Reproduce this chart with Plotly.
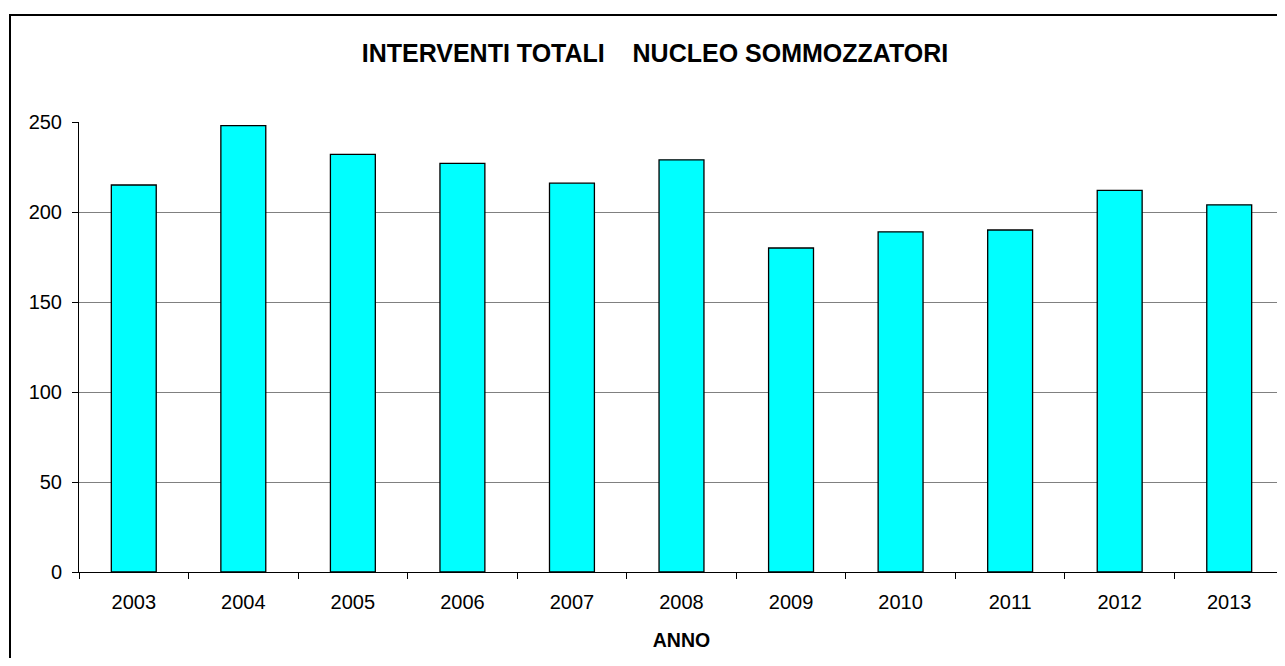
import plotly.graph_objects as go

anni = ["2003", "2004", "2005", "2006", "2007", "2008", "2009", "2010", "2011", "2012", "2013"]
interventi = [215, 248, 232, 227, 216, 229, 180, 189, 190, 212, 204]
y_ticks = [0, 50, 100, 150, 200, 250]

# page has an 8px body margin; figure placed at (8, 8)
OFF = 8
W, H = 1277, 650
L, R, T, B = 71, 1, 114, 86
pw, ph = W - L - R, H - T - B

FONT = "Liberation Sans, Arial, sans-serif"

fig = go.Figure(go.Bar(
    x=anni, y=interventi,
    marker=dict(color="#00FFFF", line=dict(color="#000000", width=1.3)),
    width=0.41,
))

fig.update_layout(
    width=W, height=H,
    margin=dict(l=L, r=R, t=T, b=B),
    paper_bgcolor="white", plot_bgcolor="white",
    showlegend=False,
    font=dict(family=FONT, color="#000000", size=20),
    title=dict(text="<b>INTERVENTI TOTALI    NUCLEO SOMMOZZATORI</b>",
               x=(655 - OFF) / W, xanchor="center",
               y=1 - (53 - OFF) / H, yanchor="middle",
               font=dict(family=FONT, size=25)),
    xaxis=dict(
        type="category", tickson="boundaries", ticks="outside", ticklen=6,
        tickcolor="#000000", showline=True, linecolor="#000000", linewidth=1,
        showgrid=False,
        title=dict(text="<b>ANNO</b>", font=dict(size=19.5), standoff=21),
        tickfont=dict(size=20), ticklabelstandoff=12,
    ),
    yaxis=dict(
        range=[0, 250], tickvals=y_ticks, ticks="outside", ticklen=6,
        tickcolor="#000000", showline=True, linecolor="#000000", linewidth=1,
        showgrid=True, gridcolor="#808080", gridwidth=1, zeroline=False,
        tickfont=dict(size=20), ticklabelstandoff=6,
    ),
    shapes=[
        # outer chart frame
        dict(type="rect", xref="paper", yref="paper",
             x0=(10 - OFF - L) / pw, x1=(W + 20 - L) / pw,
             y0=-(H + 20 - (T + ph)) / ph, y1=(T + ph - (15 - OFF)) / ph,
             line=dict(color="#000000", width=2), fillcolor="rgba(0,0,0,0)", layer="below"),
        # plot area right border
        dict(type="line", xref="paper", yref="paper", x0=1, x1=1, y0=0, y1=1,
             line=dict(color="#808080", width=2)),
    ],
)

fig.write_html("out.html")
